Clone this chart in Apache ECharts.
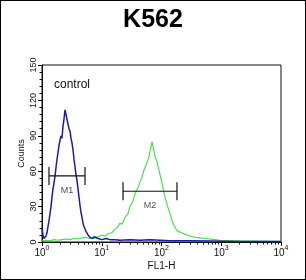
<!DOCTYPE html>
<html>
<head>
<meta charset="utf-8">
<script src="https://cdn.jsdelivr.net/npm/echarts@6/dist/echarts.min.js"></script>
<style>
  html, body { margin: 0; padding: 0; background: #fff; }
  #chart { width: 304px; height: 278px; border: 1px solid #000; }
</style>
</head>
<body>
<div id="chart"></div>
<script>
// x values are log10(FL1-H), i.e. decades 0..4
const blueLogFL1 = [0.000, 0.017, 0.033, 0.050, 0.067, 0.084, 0.100, 0.117, 0.134, 0.151,
  0.167, 0.184, 0.201, 0.218, 0.234, 0.251, 0.268, 0.285, 0.301, 0.318,
  0.335, 0.351, 0.368, 0.385, 0.402, 0.418, 0.435, 0.452, 0.469, 0.485,
  0.502, 0.519, 0.536, 0.552, 0.569, 0.586, 0.603, 0.619, 0.636, 0.653,
  0.669, 0.686, 0.703, 0.720, 0.736, 0.753, 0.770, 0.803, 0.837, 0.887,
  0.937, 1.004, 1.071, 1.138, 1.222, 1.305, 1.473, 1.640, 1.808, 1.975,
  2.142, 2.477, 2.812, 3.314, 4.000];
const blueCounts = [12, 6, 3, 4, 5, 8, 13, 18, 24, 30,
  38, 45, 50, 56, 63, 70, 76, 82, 86, 90,
  88, 98, 104, 112, 108, 104, 100, 96, 94, 88,
  84, 78, 70, 64, 57, 52, 45, 38, 31, 25,
  21, 16, 13, 11, 9, 8, 6, 4, 3, 4,
  3, 2, 3, 2, 2, 1.5, 2, 1.5, 2, 1.5,
  1, 1, 0.8, 0.5, 0.5];

const greenLogFL1 = [0.000, 0.067, 0.134, 0.201, 0.268, 0.335, 0.402, 0.469, 0.536, 0.603,
  0.669, 0.736, 0.803, 0.870, 0.937, 1.004, 1.054, 1.105, 1.138, 1.172,
  1.205, 1.238, 1.272, 1.305, 1.339, 1.372, 1.406, 1.439, 1.473, 1.506,
  1.540, 1.573, 1.607, 1.640, 1.674, 1.707, 1.741, 1.774, 1.791, 1.808,
  1.824, 1.841, 1.858, 1.874, 1.891, 1.908, 1.925, 1.941, 1.958, 1.975,
  2.008, 2.042, 2.075, 2.109, 2.142, 2.176, 2.209, 2.243, 2.276, 2.326,
  2.377, 2.427, 2.477, 2.561, 2.644, 2.728, 2.812, 2.895, 2.979, 3.146,
  3.314, 3.565, 3.816, 4.000];
const greenCounts = [1, 1.5, 1, 2, 1.5, 2, 2.5, 2, 3, 2.5,
  3.5, 4, 3, 5, 4, 6, 5, 7, 6, 8,
  10, 9, 13, 16, 15, 19, 22, 24, 30, 33,
  38, 43, 46, 51, 55, 61, 65, 70, 72, 77,
  80, 85, 81, 77, 73, 70, 68, 64, 61, 57,
  50, 42, 35, 29, 24, 18, 14, 11, 9, 8,
  7, 6, 5, 4, 3.5, 3, 2.5, 2, 1.5, 1.2,
  1, 0.8, 0.6, 0.5];

// gates (marker regions)
const gateNames = ['M1', 'M2'];
const gateFrom = [0.117, 1.356];
const gateTo = [0.720, 2.259];
const gateLevel = [56, 43];

const decades = [0, 1, 2, 3, 4];
const yTicks = [0, 30, 60, 90, 120, 150];
const minorMults = [2, 3, 4, 5, 6, 7, 8, 9];

const minorPos = [];
decades.slice(0, 4).forEach((d) => {
  minorMults.forEach((m) => minorPos.push(d + Math.log10(m)));
});

const zip = (xs, ys) => xs.map((x, i) => [x, ys[i]]);

const chart = echarts.init(document.getElementById('chart'));

const series = [
  {
    type: 'line',
    xAxisIndex: 0,
    data: zip(greenLogFL1, greenCounts),
    showSymbol: false,
    lineStyle: { color: '#3fe03f', width: 1.1 },
    z: 2,
    animation: false,
  },
  {
    type: 'line',
    xAxisIndex: 0,
    data: zip(blueLogFL1, blueCounts),
    showSymbol: false,
    lineStyle: { color: '#1c1caa', width: 1.5 },
    z: 3,
    animation: false,
  },
];

gateNames.forEach((name, i) => {
  series.push({
    type: 'line',
    xAxisIndex: 0,
    data: [[gateFrom[i], gateLevel[i]], [gateTo[i], gateLevel[i]]],
    symbol: 'rect',
    symbolSize: [1.2, 18],
    itemStyle: { color: '#111' },
    lineStyle: { color: '#111', width: 1.2 },
    z: 4,
    animation: false,
  });
  series.push({
    type: 'scatter',
    xAxisIndex: 0,
    data: [[(gateFrom[i] + gateTo[i]) / 2, gateLevel[i]]],
    symbolSize: 0,
    label: {
      show: true,
      position: 'bottom',
      distance: 10,
      formatter: name,
      fontFamily: 'Liberation Sans',
      fontSize: 9,
      color: '#222',
    },
    z: 5,
    animation: false,
  });
});

const option = {
  animation: false,
  title: {
    text: 'K562',
    left: 'center',
    top: 2,
    textStyle: { fontFamily: 'Liberation Sans', fontWeight: 'bold', fontSize: 25, color: '#000' },
  },
  graphic: [{
    type: 'text',
    left: 53,
    top: 78,
    style: { text: 'control', fontFamily: 'Liberation Sans', fontSize: 12, fill: '#111' },
  }],
  grid: { left: 41, right: 24, top: 64, bottom: 37, show: true, borderColor: '#111', borderWidth: 1 },
  xAxis: [
    {
      type: 'value',
      min: 0,
      max: 4,
      interval: 1,
      name: 'FL1-H',
      nameLocation: 'middle',
      nameGap: 19,
      nameMoveOverlap: false,
      nameTextStyle: { fontFamily: 'Liberation Sans', fontSize: 10, color: '#111' },
      axisLine: { show: true, lineStyle: { color: '#111', width: 1 } },
      axisTick: { show: true, length: 4, lineStyle: { color: '#111' } },
      splitLine: { show: false },
      axisLabel: {
        margin: 3,
        formatter: (v) => '{b|10}{s|' + v + '}',
        rich: {
          b: { fontFamily: 'Liberation Sans', fontSize: 10, color: '#111', verticalAlign: 'bottom' },
          s: { fontFamily: 'Liberation Sans', fontSize: 7, color: '#111', padding: [0, 0, 6, 0], verticalAlign: 'bottom' },
        },
      },
    },
    {
      type: 'value',
      min: 0,
      max: 4,
      position: 'bottom',
      axisLine: { show: false },
      axisLabel: { show: false },
      splitLine: { show: false },
      axisTick: { show: true, length: 2.5, customValues: minorPos, lineStyle: { color: '#111' } },
    },
  ],
  yAxis: {
    type: 'value',
    min: 0,
    max: 150,
    interval: 30,
    name: 'Counts',
    nameLocation: 'middle',
    nameRotate: 90,
    nameGap: 16,
    nameMoveOverlap: false,
    nameTextStyle: { fontFamily: 'Liberation Sans', fontSize: 9, color: '#111' },
    axisLine: { show: true, lineStyle: { color: '#111', width: 1 } },
    axisTick: { show: true, length: 4, lineStyle: { color: '#111' } },
    minorTick: { show: true, splitNumber: 5, length: 2.5, lineStyle: { color: '#111' } },
    splitLine: { show: false },
    axisLabel: {
      rotate: 90,
      margin: 4,
      fontFamily: 'Liberation Sans',
      fontSize: 9,
      color: '#111',
      customValues: yTicks,
    },
  },
  series: series,
};

chart.setOption(option);
</script>
</body>
</html>
